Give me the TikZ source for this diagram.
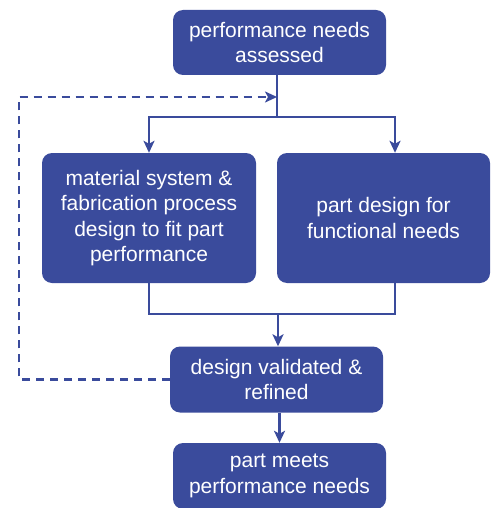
\documentclass[tikz,border=0pt]{standalone}
\usepackage{fontspec}
\setmainfont{Liberation Sans}
\usetikzlibrary{arrows.meta}
\definecolor{boxblue}{HTML}{3A4B9C}
\begin{document}
\begin{tikzpicture}[x=1pt,y=-1pt,
  stepbox/.style={draw=none, fill=boxblue, rounded corners=10pt, text=white,
    align=center, font=\fontsize{21}{25.5}\selectfont, inner sep=0pt},
  link/.style={draw=boxblue, line width=2.4pt},
  arr/.style={link, -{Stealth[length=12pt,width=11pt,inset=3pt]}},
  loop/.style={arr, dash pattern=on 8pt off 6pt}]
\useasboundingbox (0,0) rectangle (494,508);
\node[stepbox, minimum width=213pt, minimum height=65pt] (top) at (279.5,42.5)
  {performance needs\\assessed};
\node[stepbox, minimum width=214pt, minimum height=130pt] (mat) at (149,218)
  {material system \&\\fabrication process\\design to fit part\\performance};
\node[stepbox, minimum width=213pt, minimum height=130pt] (part) at (383.5,218)
  {part design for\\functional needs};
\node[stepbox, minimum width=213pt, minimum height=66pt] (val) at (276.5,379.5)
  {design validated \&\\refined};
\node[stepbox, minimum width=213pt, minimum height=66pt] (done) at (279.5,476)
  {part meets\\performance needs};
% split point below the first step, merge point above validation
\coordinate (split) at (277,117);
\coordinate (merge) at (278,314);
\coordinate (ret) at (277,97);
% the right branch meets its box right of centre
\coordinate (rbranch) at (395,117);
\draw[link] (top.south -| split) -- (split);
\draw[arr] (split) -| (mat.north);
\draw[arr] (split) -- (rbranch) -- (rbranch |- part.north);
\draw[link] (mat.south) |- (merge);
\draw[link] (rbranch |- part.south) |- (merge);
\draw[arr] (merge) -- (val.north -| merge);
\draw[arr] (val.south -| done) -- (done.north);
% feedback loop back to the top
\draw[loop] (val.west) -| (19,97) -- (ret);
\end{tikzpicture}
\end{document}
